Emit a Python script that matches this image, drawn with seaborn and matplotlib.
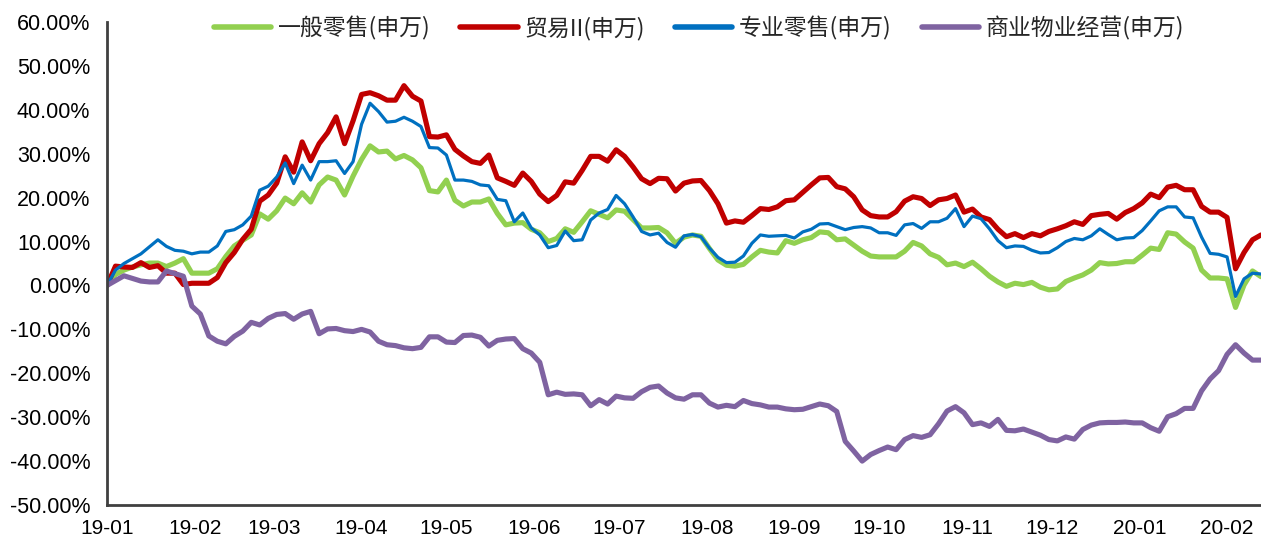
import pandas as pd
import matplotlib
matplotlib.use("Agg")
import matplotlib.pyplot as plt
import matplotlib.dates as mdates
from matplotlib.ticker import FuncFormatter, MultipleLocator
from matplotlib.lines import Line2D
import seaborn as sns

# 3-day sampling of the cumulative returns (%)
dates = pd.date_range("2019-01-01", periods=137, freq="3D")

general_retail = [
    0, 2.5, 3.5, 4.2, 4.7, 5.1, 5.1, 4.3, 5.1, 6.1,
    2.8, 2.8, 2.8, 3.8, 6.6, 9, 10.3, 11.5, 16.3, 15.1,
    17, 19.9, 18.6, 21.1, 19, 22.9, 24.7, 24, 20.6, 24.9,
    28.7, 31.8, 30.4, 30.6, 28.8, 29.6, 28.6, 26.8, 21.6, 21.3,
    24, 19.4, 18.1, 19, 19, 19.7, 16.4, 13.8, 14.2, 14.3,
    12.8, 12, 10, 10.7, 12.9, 12.1, 14.5, 17, 16.2, 15.4,
    17.2, 16.9, 15, 13.1, 13.1, 13.2, 12, 9.6, 11, 11.5,
    11.2, 8.4, 5.8, 4.6, 4.4, 4.8, 6.5, 8, 7.6, 7.4,
    10.2, 9.6, 10.4, 10.9, 12.2, 12, 10.4, 10.6, 9.2, 7.8,
    6.7, 6.5, 6.5, 6.5, 7.8, 9.8, 9, 7.2, 6.4, 4.7,
    5.1, 4.3, 5.3, 3.8, 2.1, 0.8, -0.2, 0.5, 0.2, 0.7,
    -0.4, -1, -0.8, 0.9, 1.7, 2.4, 3.5, 5.2, 4.9, 5,
    5.4, 5.4, 6.9, 8.5, 8.2, 12, 11.7, 9.9, 8.5, 3.5,
    1.7, 1.7, 1.5, -5, 0.1, 3.3, 2,
]

trade = [
    0, 4.4, 4.2, 4.1, 5.2, 4.1, 4.5, 2.8, 2.8, 0.2,
    0.5, 0.5, 0.5, 1.8, 5.2, 7.5, 10.5, 12.8, 19.2, 20.6,
    23.3, 29.3, 25.8, 32.7, 28.4, 32.3, 34.8, 38.4, 32.3, 37.5,
    43.5, 43.9, 43.2, 42.2, 42.2, 45.5, 43.1, 42, 33.9, 33.8,
    34.3, 31, 29.5, 28.2, 27.8, 29.7, 24.5, 23.7, 22.8, 25.6,
    23.7, 20.8, 19.1, 20.5, 23.6, 23.3, 26.2, 29.4, 29.4, 28.3,
    30.9, 29.4, 27, 24.3, 23.2, 24.4, 24.3, 21.5, 23.3, 23.8,
    23.9, 21.6, 18.6, 14.2, 14.7, 14.4, 15.9, 17.5, 17.3, 17.9,
    19.3, 19.5, 21.2, 22.9, 24.5, 24.6, 22.5, 22, 20.2, 17.2,
    15.9, 15.6, 15.6, 16.8, 19.2, 20.2, 19.8, 18.2, 19.5, 19.8,
    20.6, 16.7, 17.4, 15.6, 15, 12.8, 11.1, 11.8, 10.9, 11.8,
    11.3, 12.3, 12.9, 13.6, 14.5, 13.9, 15.9, 16.2, 16.4, 15.1,
    16.6, 17.5, 18.8, 20.8, 20, 22.4, 22.8, 21.8, 21.8, 18,
    16.7, 16.7, 15.5, 3.8, 7.5, 10.4, 11.5,
]

specialty_retail = [
    0, 3.5, 5, 6.1, 7.2, 8.8, 10.4, 8.9, 8, 7.8,
    7.2, 7.6, 7.6, 9, 12.3, 12.7, 13.8, 15.8, 21.7, 22.6,
    24.7, 27.9, 23.2, 27.4, 24, 28.2, 28.2, 28.4, 25.5, 28.2,
    36.7, 41.5, 39.6, 37.2, 37.4, 38.3, 37.4, 36.2, 31.4, 31.3,
    29.7, 24, 24, 23.7, 22.9, 22.7, 19.6, 19.3, 14.5, 16.5,
    13.1, 11.5, 8.6, 9.1, 12.4, 10.2, 10.4, 14.9, 16.5, 17.3,
    20.5, 18.6, 15.6, 12.3, 11.5, 11.9, 9.8, 8.7, 11.3, 11.6,
    11.1, 8.5, 6.4, 5.2, 5.3, 6.7, 9.6, 11.5, 11.2, 11.3,
    11.4, 10.8, 12.2, 12.8, 14, 14.1, 13.4, 12.7, 13.2, 13.4,
    13.1, 12, 12, 11.4, 13.8, 14.1, 13, 14.5, 14.5, 15.3,
    17.5, 13.4, 15.8, 15.2, 12.9, 10.2, 8.6, 9, 8.9, 8,
    7.4, 7.5, 8.6, 10, 10.7, 10.4, 11.3, 12.9, 11.6, 10.4,
    10.8, 10.9, 12.5, 14.7, 17, 17.9, 17.9, 15.6, 15.4, 11,
    7.3, 7.1, 6.5, -2.5, 1.5, 2.8, 2.6,
]

property_ops = [
    0, 1.1, 2.2, 1.6, 1, 0.8, 0.8, 3.3, 2.7, 2.1,
    -4.7, -6.5, -11.5, -12.7, -13.3, -11.6, -10.4, -8.4, -9, -7.5,
    -6.6, -6.4, -7.7, -6.5, -5.9, -11, -9.9, -9.8, -10.3, -10.5,
    -10, -10.6, -12.7, -13.5, -13.7, -14.2, -14.4, -14.1, -11.7, -11.7,
    -12.9, -13, -11.4, -11.3, -11.8, -13.8, -12.5, -12.2, -12.1, -14.4,
    -15.4, -17.5, -24.9, -24.3, -24.8, -24.7, -24.9, -27.4, -26, -27,
    -25.2, -25.6, -25.7, -24.2, -23.2, -22.9, -24.5, -25.6, -25.9, -24.9,
    -24.9, -26.8, -27.7, -27.3, -27.6, -26.2, -26.9, -27.2, -27.7, -27.7,
    -28.1, -28.3, -28.2, -27.6, -27, -27.4, -28.7, -35.5, -37.7, -40,
    -38.5, -37.6, -36.8, -37.4, -35.1, -34.2, -34.6, -34, -31.5, -28.6,
    -27.6, -29, -31.7, -31.3, -32.1, -30.5, -33, -33.1, -32.7, -33.4,
    -34.1, -35.1, -35.4, -34.5, -35, -32.8, -31.8, -31.3, -31.2, -31.2,
    -31.1, -31.3, -31.3, -32.4, -33.2, -29.9, -29.2, -28, -28, -24,
    -21.3, -19.4, -15.7, -13.5, -15.4, -17, -17,
]

series_names = ["一般零售(申万)", "贸易II(申万)", "专业零售(申万)", "商业物业经营(申万)"]
series_values = [general_retail, trade, specialty_retail, property_ops]
colors = ["#92D050", "#C00000", "#0070C0", "#7F63A1"]
widths = [3.7, 3.7, 2.3, 3.7]

sns.set_style("white")
plt.rcParams["font.family"] = ["Liberation Sans", "DejaVu Sans"]

fig = plt.figure(figsize=(12.61, 5.4), dpi=100)
ax = fig.add_axes([107 / 1261, 35 / 540, 1154 / 1261, 483 / 540])

for name, vals, c, lw in zip(series_names, series_values, colors, widths):
    df = pd.DataFrame({"date": dates, "value": vals})
    sns.lineplot(data=df, x="date", y="value", ax=ax, color=c, linewidth=lw,
                 solid_joinstyle="round", solid_capstyle="round")

ax.set_xlim(dates[0], dates[-1])
ax.set_ylim(-50, 60)
ax.yaxis.set_major_locator(MultipleLocator(10))
ax.yaxis.set_major_formatter(FuncFormatter(lambda v, p: f"{v:.2f}%"))
ax.xaxis.set_major_locator(mdates.MonthLocator())
ax.xaxis.set_major_formatter(mdates.DateFormatter("%y-%m"))
ax.set_xlabel("")
ax.set_ylabel("")

for side in ["top", "right"]:
    ax.spines[side].set_visible(False)
for side in ["left", "bottom"]:
    ax.spines[side].set_color("#404040")
    ax.spines[side].set_linewidth(2)
ax.tick_params(axis="both", which="major", direction="out", length=4, width=2,
               color="#404040", labelsize=15, labelcolor="#000000")
ax.tick_params(axis="y", pad=8, labelsize=15.5)
ax.tick_params(axis="x", pad=6)

handles = [Line2D([0], [0], color=c, linewidth=4, solid_capstyle="round") for c in colors]
leg = ax.legend(handles, series_names, loc="upper center", bbox_to_anchor=(0.513, 1.055),
                ncol=4, frameon=False, handlelength=2.5, handletextpad=0.3,
                columnspacing=1.3, prop={"family": ["Noto Sans CJK SC", "DejaVu Sans"], "size": 16.5})

fig.savefig("out.png", dpi=100)
